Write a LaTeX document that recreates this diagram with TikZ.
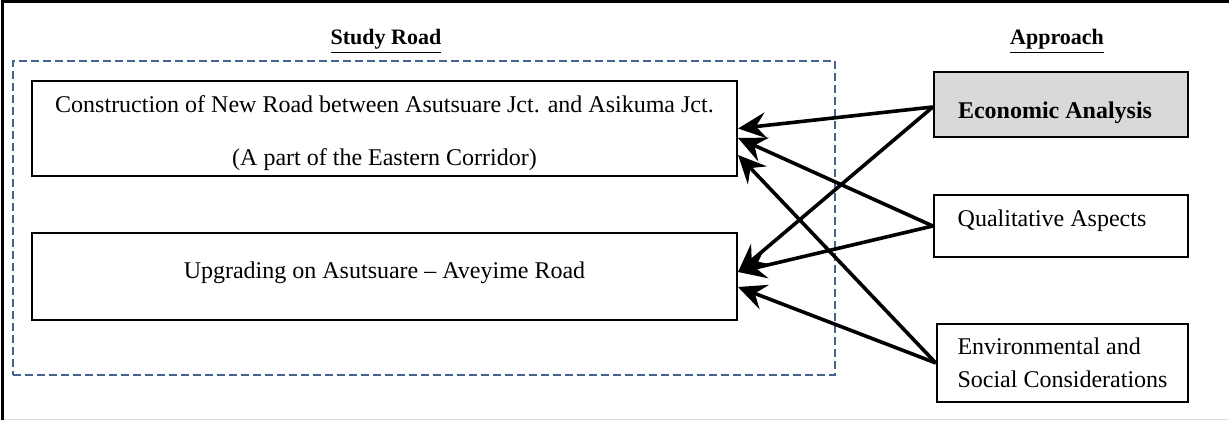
\documentclass[tikz,border=0pt]{standalone}
\usepackage{fontspec}
\setmainfont{Liberation Serif}
\usetikzlibrary{arrows.meta}
\definecolor{dashblue}{HTML}{44638F}
\definecolor{boxgray}{HTML}{D9D9D9}
\newcommand{\shifttext}[3]{\raisebox{#1}[\height][\depth]{#3\hspace*{#2}}}
\begin{document}
\begin{tikzpicture}[x=0.5pt,y=-0.5pt,
  txt/.style={font=\fontsize{12}{14.5}\selectfont},
  roadbox/.style={txt, draw=black, line width=1pt, fill=white, inner sep=0pt, align=center, minimum width=352.5pt},
  apbox/.style={txt, draw=black, line width=1.2pt, fill=white, inner sep=0pt},
  heading/.style={font=\fontsize{11}{13}\selectfont\bfseries, inner sep=0pt, anchor=base},
  area/.style={draw=dashblue, line width=1pt, dash pattern=on 4pt off 2pt, inner sep=0pt},
  link/.style={line width=1.8pt, -{Stealth[length=14pt,width=13pt,inset=5pt]}},
]
\useasboundingbox (0,0) rectangle (1229,421);
% frame
\draw[gray!25, line width=0.75pt] (0,419.5) -- (1229,419.5);
\draw[line width=1.5pt] (1229,2) -- (2,2) -- (2,420);
% headings
\node[heading] (tstudy) at (386,45) {\underline{Study Road}};
\node[heading] (tapp) at (1057,45) {\underline{Approach}};
% study area
\node[area, minimum width=411pt, minimum height=157pt] (studyarea) at (424,218) {};
% study roads
\node[roadbox, minimum height=47.5pt] (b1) at (384.5,128.5)
  {\shifttext{-2.5pt}{0pt}{Construction of New Road between Asutsuare Jct. and Asikuma Jct.}\\[12pt]\shifttext{-2.5pt}{0pt}{(A part of the Eastern Corridor)}};
\node[roadbox, minimum height=43.5pt] (b2) at (384.5,276.5)
  {\shifttext{2pt}{0pt}{Upgrading on Asutsuare – Aveyime Road}};
% approaches
\node[apbox, fill=boxgray, minimum width=127pt, minimum height=32.5pt, font=\fontsize{12}{14.5}\selectfont\bfseries] (econ) at (1061,104.5) {\shifttext{-4pt}{6pt}{Economic Analysis}};
\node[apbox, minimum width=127pt, minimum height=31pt] (qual) at (1061,226) {\shifttext{2.5pt}{9pt}{Qualitative Aspects}};
\node[apbox, minimum width=125.5pt, minimum height=39pt, align=left] (env) at (1062.5,363) {Environmental and\\[2pt]Social Considerations};
% links
\draw[link] ([yshift=-1.25pt]econ.west) -- (b1.east);
\draw[link] ([yshift=-1.25pt]econ.west) -- ([yshift=2.25pt]b2.east);
\draw[link] (qual.west) -- ([yshift=-4.75pt]b1.east);
\draw[link] (qual.west) -- ([yshift=2.25pt]b2.east);
\draw[link] (env.west) -- ([yshift=-13.25pt]b1.east);
\draw[link] (env.west) -- ([yshift=-5.25pt]b2.east);
\end{tikzpicture}
\end{document}
